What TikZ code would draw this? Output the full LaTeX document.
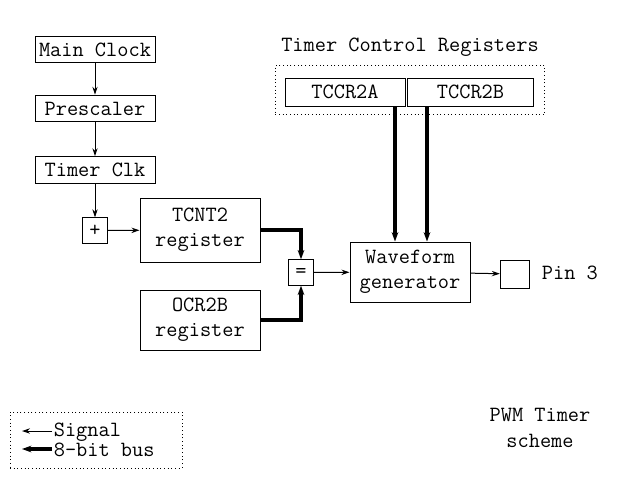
\documentclass[tikz,border=0pt]{standalone}
\usetikzlibrary{arrows.meta}
\begin{document}
\begin{tikzpicture}[x=0.75pt,y=-0.75pt,
  font=\fontsize{16.3}{19}\selectfont\ttfamily,
  every node/.style={line width=0.75pt},
  box/.style={draw,minimum width=90pt,inner sep=0pt,align=center},
  sm/.style={draw,minimum width=19pt,minimum height=19pt,inner sep=0pt},
  sig/.style={line width=0.75pt,-{Stealth[length=6pt,width=4pt]}},
  bus/.style={-{Stealth[length=7pt,width=5pt]},line width=3pt}]
\useasboundingbox (0,0) rectangle (640,480);
\node[box,minimum height=19pt] (mc) at (95,49.5) {Main Clock};
\node[box,minimum height=20pt] (ps) at (95,108.5) {Prescaler};
\node[box,minimum height=20pt] (tc) at (95,170) {Timer Clk};
\node[sm] (plus) at (95,230.5) {+};
\node[box,minimum height=48pt] (tcnt) at (200,230) {TCNT2\\register};
\node[box,minimum height=45pt] (ocr) at (200,320) {OCR2B\\register};
\node[sm] (eq) at (301,272.5) {=};
\node[box,minimum height=45pt] (wg) at (410,272) {Waveform\\generator};
\node[draw,minimum width=22pt,minimum height=21pt,inner sep=0pt] (pin) at (515,274) {};
\node[anchor=west] (pinl) at (537,273) {Pin 3};
\node (tcrl) at (410,47) {Timer Control Registers};
\node[draw,dotted,minimum width=202pt,minimum height=37pt] (tcr) at (410,90) {};
\node[box,minimum height=21pt] (ta) at (345,92) {TCCR2A};
\node[box,minimum height=21pt,minimum width=94pt] (tb) at (470.5,92) {TCCR2B};
\draw[sig] (mc) -- (ps);
\draw[sig] (ps) -- (tc);
\draw[sig] (tc) -- (plus);
\draw[sig] (plus) -- (tcnt);
\draw[sig] (eq) -- (wg);
\draw[sig] (wg) -- (pin);
\draw[bus] (tcnt.east) -| (eq.north);
\draw[bus] (ocr.east) -| (eq.south);
\draw[bus] (ta.south -| 395,0) -- (wg.north -| 395,0);
\draw[bus] (tb.south -| 427,0) -- (wg.north -| 427,0);
\node[draw,dotted,minimum width=129pt,minimum height=42pt] (leg) at (96,440) {};
\coordinate (s1) at (52,431);
\coordinate (s2) at (52,449);
\draw[sig] (s1) -- (22,431);
\draw[bus] (s2) -- (22,449);
\node[anchor=west,inner sep=1pt] (l1) at (52,432) {Signal};
\node[anchor=west,inner sep=1pt] (l2) at (52,450) {8-bit bus};
\node[align=center] (pwm) at (540,428) {PWM Timer\\scheme};
\end{tikzpicture}
\end{document}
